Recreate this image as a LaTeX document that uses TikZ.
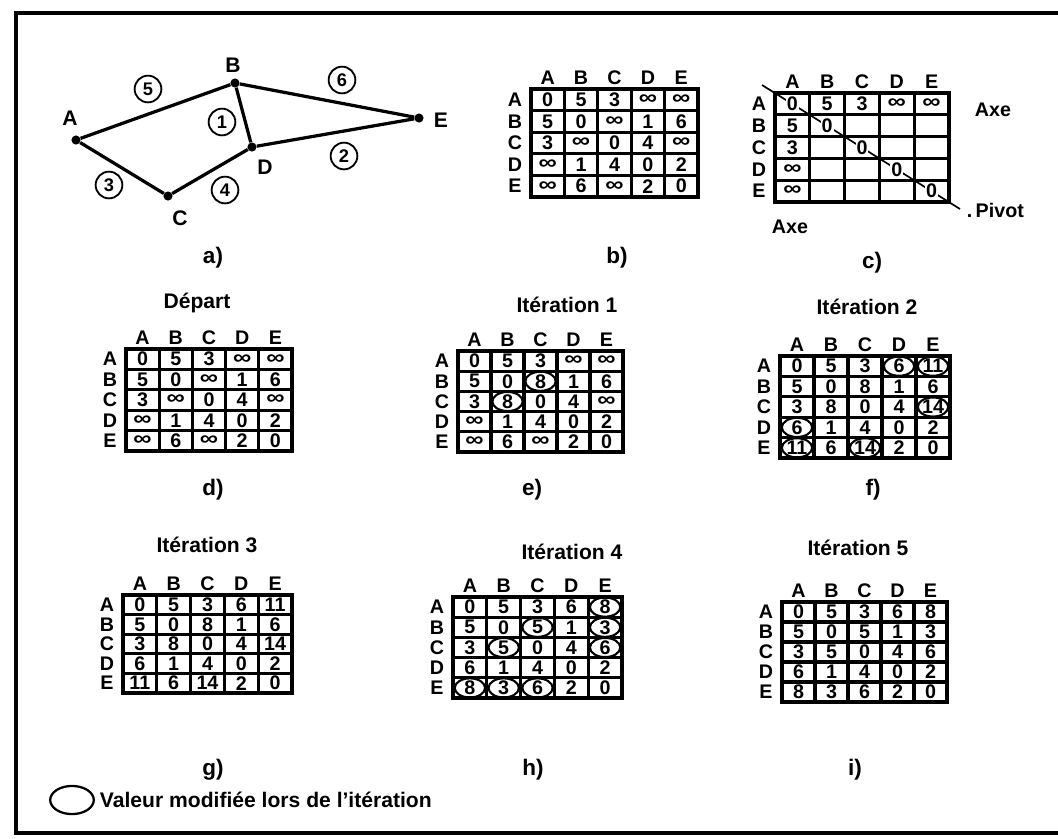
\documentclass[tikz,border=0pt]{standalone}
\usepackage{fontspec}
\setmainfont{Liberation Sans}
\usetikzlibrary{shapes.geometric}
\newcommand{\oo}{\raisebox{-0.8pt}{\scalebox{1.3}[1.05]{∞}}}
\tikzset{
  frame/.style={line width=3pt},
  edge/.style={line width=2.3pt},
  vertex/.style={circle,fill=black,inner sep=0pt,minimum size=6.5pt},
  vlabel/.style={font=\fontsize{15}{15}\selectfont\bfseries},
  weight/.style={circle,draw,line width=1.3pt,inner sep=0pt,minimum size=19pt,font=\fontsize{13}{13}\selectfont\bfseries},
  gridline/.style={line width=2.2pt},
  gridframe/.style={line width=2.6pt},
  hdr/.style={inner sep=0pt,font=\fontsize{14}{14}\selectfont\bfseries},
  val/.style={inner sep=0pt,font=\fontsize{14}{14}\selectfont\bfseries},
  title/.style={font=\fontsize{15}{15}\selectfont\bfseries},
  sublabel/.style={font=\fontsize{16}{16}\selectfont\bfseries},
  mod/.style={line width=1.5pt},
  note/.style={font=\fontsize{14}{14}\selectfont\bfseries},
}
% distance matrix: name, left, top, cell width, cell height, rows
\newcommand{\grille}[6]{%
  \foreach \i in {0,...,5}{
    \draw[gridline] (#2+\i*#4, #3) -- (#2+\i*#4, #3+5*#5);
    \draw[gridline] (#2, #3+\i*#5) -- (#2+5*#4, #3+\i*#5);
  }
  \draw[gridframe] (#2,#3) rectangle (#2+5*#4,#3+5*#5);
  \foreach \L [count=\k] in {A,B,C,D,E}{
    \node[hdr] (#1-col-\k) at (#2+\k*#4-0.5*#4, #3-11) {\L};
    \node[hdr] (#1-row-\k) at (#2-16, #3+\k*#5-0.5*#5) {\L};
  }
  \foreach \row [count=\r] in {#6}{
    \foreach \v [count=\c] in \row {
      \node[val] (#1-\r-\c) at (#2+\c*#4-0.5*#4, #3+\r*#5-0.5*#5) {\v};
    }
  }
}
\newcommand{\entoure}[1]{\draw[mod] (#1) ellipse [x radius=10.8pt, y radius=6.8pt];}
\begin{document}
\begin{tikzpicture}[x=0.025cm,y=-0.025cm]
\useasboundingbox (0,0) rectangle (1058,838);
% outer frame
\draw[frame] (1062,13) -- (16,13) -- (16,833) -- (1062,833);

% a) graph
\node[vertex] (A) at (76,140) {};
\node[vertex] (B) at (235,83) {};
\node[vertex] (C) at (168,196) {};
\node[vertex] (D) at (252,147) {};
\node[vertex] (E) at (419,118) {};
\draw[edge] (A) -- (B) -- (E) -- (D) -- (C) -- (A);
\draw[edge] (B) -- (D);
\node[vlabel] (lA) at (70,118) {A};
\node[vlabel] (lB) at (233,65) {B};
\node[vlabel] (lC) at (180,218) {C};
\node[vlabel] (lD) at (265,167) {D};
\node[vlabel] (lE) at (441,120) {E};
\node[weight] (w5) at (148,89) {5};
\node[weight] (w1) at (222,122) {1};
\node[weight] (w6) at (342,80) {6};
\node[weight] (w2) at (344,156) {2};
\node[weight] (w3) at (109,185) {3};
\node[weight] (w4) at (225,190) {4};
\node[sublabel] (sa) at (213,258) {a)};

% b) initial matrix
\grille{b}{531}{89}{33.4}{21.6}{{0,5,3,\oo,\oo},{5,0,\oo,1,6},{3,\oo,0,4,\oo},{\oo,1,4,0,2},{\oo,6,\oo,2,0}}
\node[sublabel] (sb) at (617,258) {b)};

% c) axes and pivots
\grille{c}{775}{93}{34.8}{21.8}{{,5,3,\oo,\oo},{5,,,,},{3,,,,},{\oo,,,,},{\oo,,,,}}
\coordinate (c-tl) at (762,85);
\coordinate (c-br) at (960,209);
\draw[line width=1.2pt] (c-tl) -- (c-br);
\foreach \k in {1,...,5}{
  \node[val,fill=white,inner sep=0.6pt] (c-diag-\k) at (c-\k-\k) {0};
}
\node[note] (axe1) at (993,110) {Axe};
\node[note] (axe2) at (790,227) {Axe};
\node[note,anchor=west] (pivot) at (962,210) {.\,Pivot};
\node[sublabel] (sc) at (872,263) {c)};

% d) start
\node[title] (td) at (197,303) {Départ};
\grille{d}{126}{349}{33.2}{20.4}{{0,5,3,\oo,\oo},{5,0,\oo,1,6},{3,\oo,0,4,\oo},{\oo,1,4,0,2},{\oo,6,\oo,2,0}}
\node[sublabel] (sd) at (213,490) {d)};

% e) iteration 1
\node[title] (te) at (567,305) {Itération 1};
\grille{e}{458}{351}{33}{20.2}{{0,5,3,\oo,\oo},{5,0,8,1,6},{3,8,0,4,\oo},{\oo,1,4,0,2},{\oo,6,\oo,2,0}}
\entoure{e-2-3}\entoure{e-3-2}
\node[sublabel] (se) at (532,490) {e)};

% f) iteration 2
\node[title] (tf) at (867,307) {Itération 2};
\grille{f}{780}{356}{34}{20.4}{{0,5,3,6,11},{5,0,8,1,6},{3,8,0,4,14},{6,1,4,0,2},{11,6,14,2,0}}
\entoure{f-1-4}\entoure{f-1-5}\entoure{f-3-5}\entoure{f-4-1}\entoure{f-5-1}\entoure{f-5-3}
\node[sublabel] (sf) at (873,490) {f)};

% g) iteration 3
\node[title] (tg) at (207,545) {Itération 3};
\grille{g}{123}{595}{33.8}{19.6}{{0,5,3,6,11},{5,0,8,1,6},{3,8,0,4,14},{6,1,4,0,2},{11,6,14,2,0}}
\node[sublabel] (sg) at (213,770) {g)};

% h) iteration 4
\node[title] (th) at (572,552) {Itération 4};
\grille{h}{453}{597}{33.8}{20.2}{{0,5,3,6,8},{5,0,5,1,3},{3,5,0,4,6},{6,1,4,0,2},{8,3,6,2,0}}
\entoure{h-1-5}\entoure{h-2-3}\entoure{h-2-5}\entoure{h-3-2}\entoure{h-3-5}\entoure{h-5-1}\entoure{h-5-2}\entoure{h-5-3}
\node[sublabel] (sh) at (533,770) {h)};

% i) iteration 5
\node[title] (ti) at (858,548) {Itération 5};
\grille{i}{782}{602}{33}{20}{{0,5,3,6,8},{5,0,5,1,3},{3,5,0,4,6},{6,1,4,0,2},{8,3,6,2,0}}
\node[sublabel] (si) at (855,770) {i)};

% legend
\node[draw,ellipse,line width=1.6pt,minimum width=31pt,minimum height=20pt,inner sep=0pt] (leg) at (72,800) {};
\node[anchor=west,font=\fontsize{15}{15}\selectfont\bfseries] (legtext) at (95,800) {Valeur modifiée lors de l'itération};
\end{tikzpicture}
\end{document}
